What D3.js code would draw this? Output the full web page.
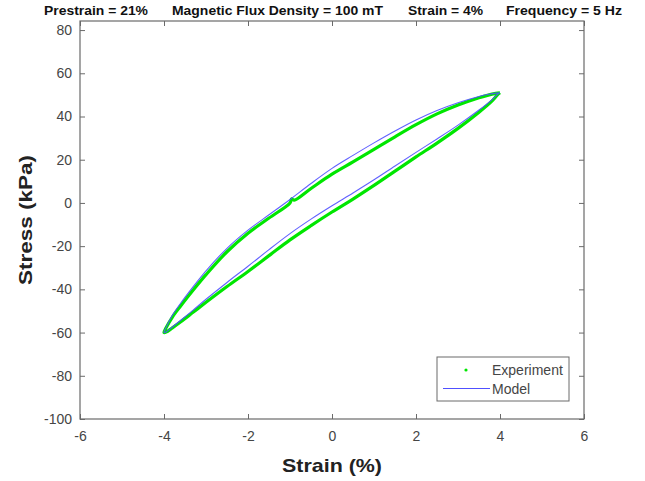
<!DOCTYPE html>
<html><head><meta charset="utf-8">
<script src="https://cdn.jsdelivr.net/npm/d3@7"></script>
<style>
html,body{margin:0;padding:0;background:#fff;}
svg{display:block;font-family:"Liberation Sans",Arial,Helvetica,sans-serif;}
</style></head>
<body><svg id="c" width="645" height="481"></svg>
<script>
// ---- data ----
const titleParts = ["Prestrain = 21%", "Magnetic Flux Density = 100 mT", "Strain = 4%", "Frequency = 5 Hz"];
const xTicks = [-6, -4, -2, 0, 2, 4, 6];
const yTicks = [-100, -80, -60, -40, -20, 0, 20, 40, 60, 80];
const seriesNames = ["Experiment", "Model"];

// Experiment loop: upper (unloading) branch from +4 to -4, then lower (loading) branch back to +4
const expStrain = [4.0, 3.9, 3.7, 3.5, 3.0, 2.5, 2.0, 1.5, 1.0, 0.5, 0.0, -0.5, -0.9, -0.96, -1.0, -1.5, -2.0, -2.5, -3.0, -3.3, -3.6, -3.8, -3.95, -4.0,
                   -3.95, -3.8, -3.6, -3.3, -3.0, -2.5, -2.0, -1.5, -1.0, -0.5, 0.0, 0.5, 1.0, 1.5, 2.0, 2.5, 3.0, 3.5, 3.8, 3.95, 4.0];
const expStress = [51.0, 50.7, 49.8, 48.7, 45.3, 41.2, 36.2, 30.6, 24.8, 19.0, 13.3, 6.7, 1.3, 1.9, 0.0, -7.0, -14.0, -22.6, -33.2, -40.2, -47.6, -52.8, -57.8, -60.0,
                   -59.8, -57.8, -55.0, -50.5, -46.0, -38.7, -31.7, -24.4, -17.1, -10.5, -4.2, 1.8, 8.1, 14.7, 21.3, 27.7, 34.5, 42.0, 47.0, 50.2, 51.0];

const modelStrain = [4.0, 3.9, 3.7, 3.5, 3.0, 2.5, 2.0, 1.5, 1.0, 0.5, 0.0, -0.5, -1.0, -1.5, -2.0, -2.5, -3.0, -3.3, -3.6, -3.8, -3.95, -4.0,
                     -3.95, -3.8, -3.6, -3.3, -3.0, -2.5, -2.0, -1.5, -1.0, -0.5, 0.0, 0.5, 1.0, 1.5, 2.0, 2.5, 3.0, 3.5, 3.8, 3.95, 4.0];
const modelStress = [51.0, 50.8, 50.2, 49.3, 46.4, 42.8, 38.4, 33.3, 27.8, 22.0, 16.0, 9.0, 1.6, -5.5, -12.6, -21.0, -31.4, -38.6, -46.3, -52.0, -57.6, -60.0,
                     -59.7, -57.4, -54.3, -49.5, -44.6, -36.8, -29.3, -21.6, -14.2, -7.5, -1.3, 4.6, 10.7, 17.1, 23.4, 29.6, 36.0, 43.0, 47.6, 50.4, 51.0];

// ---- layout ----
const svg = d3.select("#c");
const L = 80, R = 584, T = 21, B = 419;
const x = d3.scaleLinear().domain([-6, 6]).range([L, R]);
const y = d3.scaleLinear().domain([-100, 84.2]).range([B, T]);
const axisCol = "#6a6a6a", textCol = "#454545";

// data lines
const line = d3.line().x(d => x(d[0])).y(d => y(d[1])).curve(d3.curveCatmullRom.alpha(0.5));
const expPts = expStrain.map((s, i) => [s, expStress[i]]);
const modPts = modelStrain.map((s, i) => [s, modelStress[i]]);
svg.append("path").attr("d", line(expPts)).attr("fill", "none").attr("stroke", "#00e600").attr("stroke-width", 3.2).attr("stroke-linejoin", "round");
svg.append("path").attr("d", line(modPts)).attr("fill", "none").attr("stroke", "#5050ff").attr("stroke-width", 1.1).attr("stroke-opacity", 0.9);

// axes (ticks inward, all four sides)
const tl = 5;
const fmt = d => String(d);
const gB = svg.append("g").attr("transform", `translate(0,${B})`)
  .call(d3.axisBottom(x).tickValues(xTicks).tickSize(-tl).tickPadding(12).tickFormat(fmt));
const gT = svg.append("g").attr("transform", `translate(0,${T})`)
  .call(d3.axisTop(x).tickValues(xTicks).tickSize(-tl).tickFormat(""));
const gL = svg.append("g").attr("transform", `translate(${L},0)`)
  .call(d3.axisLeft(y).tickValues(yTicks).tickSize(-tl).tickPadding(8).tickFormat(fmt));
const gR = svg.append("g").attr("transform", `translate(${R},0)`)
  .call(d3.axisRight(y).tickValues(yTicks).tickSize(-tl).tickFormat(""));
[gB, gT, gL, gR].forEach(g => {
  g.select(".domain").remove();
  g.selectAll(".tick line").attr("stroke", axisCol);
  g.selectAll(".tick text").attr("fill", textCol).style("font-size", "14px");
});
svg.append("rect").attr("x", L).attr("y", T).attr("width", R - L).attr("height", B - T)
  .attr("fill", "none").attr("stroke", axisCol).attr("stroke-width", 1.2);

// title
const titleX = [96, 277.5, 445.5, 564];
const titleW = [104, 211, 75, 116];
titleParts.forEach((t, i) => {
  svg.append("text").attr("x", titleX[i]).attr("y", 15).attr("text-anchor", "middle")
    .attr("textLength", titleW[i]).attr("lengthAdjust", "spacingAndGlyphs")
    .attr("fill", "#111").style("font-size", "12.5px").style("font-weight", "bold").text(t);
});

// axis labels
svg.append("text").attr("x", (L + R) / 2).attr("y", 472).attr("text-anchor", "middle")
  .attr("textLength", 100).attr("lengthAdjust", "spacingAndGlyphs")
  .attr("fill", "#222").style("font-size", "19px").style("font-weight", "bold").text("Strain (%)");
svg.append("text").attr("transform", `translate(32,${(T + B) / 2}) rotate(-90)`).attr("text-anchor", "middle")
  .attr("textLength", 130).attr("lengthAdjust", "spacingAndGlyphs")
  .attr("fill", "#222").style("font-size", "19px").style("font-weight", "bold").text("Stress (kPa)");

// legend
const lg = svg.append("g");
lg.append("rect").attr("x", 437).attr("y", 357).attr("width", 132).attr("height", 44)
  .attr("fill", "#fff").attr("stroke", axisCol).attr("stroke-width", 1);
lg.append("circle").attr("cx", 466).attr("cy", 370).attr("r", 1.6).attr("fill", "#00e600");
lg.append("line").attr("x1", 443).attr("x2", 490).attr("y1", 388.5).attr("y2", 388.5).attr("stroke", "#5050ff").attr("stroke-width", 1.1);
seriesNames.forEach((n, i) => {
  lg.append("text").attr("x", 492).attr("y", 375 + i * 18.5).attr("fill", textCol).style("font-size", "14px").text(n);
});
</script></body></html>
